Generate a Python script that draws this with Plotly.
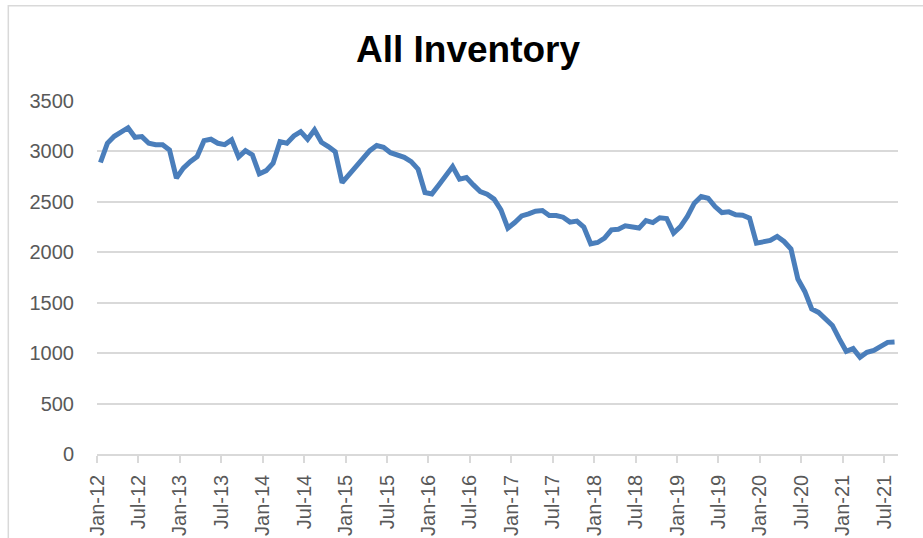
import plotly.graph_objects as go

# Monthly values, Jan-2012 .. Aug-2021
start_year = 2012
start_month = 1
inventory = [
    2890, 3080, 3150, 3186, 3235, 3140, 3147, 3081, 3067, 3067, 3015, 2735,   # 2012
    2834, 2899, 2949, 3107, 3121, 3081, 3067, 3114, 2945, 3008, 2965, 2777,   # 2013
    2810, 2883, 3097, 3081, 3153, 3196, 3121, 3213, 3091, 3048, 2998, 2690,   # 2014
    2765, 2850, 2933, 3008, 3058, 3041, 2988, 2968, 2942, 2899, 2824, 2592,   # 2015
    2579, 2668, 2767, 2850, 2725, 2741, 2668, 2602, 2576, 2527, 2421, 2240,   # 2016
    2295, 2361, 2381, 2408, 2414, 2365, 2365, 2348, 2299, 2309, 2250, 2084,   # 2017
    2097, 2140, 2223, 2229, 2262, 2249, 2240, 2315, 2295, 2342, 2335, 2190,   # 2018
    2255, 2355, 2487, 2553, 2536, 2453, 2394, 2401, 2371, 2368, 2339, 2091,   # 2019
    2104, 2117, 2157, 2107, 2032, 1735, 1612, 1438, 1404, 1332, 1275, 1141,   # 2020
    1018, 1045, 958, 1008, 1028, 1067, 1107, 1111,                            # 2021
]
tick_labels = ["Jan-12", "Jul-12", "Jan-13", "Jul-13", "Jan-14", "Jul-14",
               "Jan-15", "Jul-15", "Jan-16", "Jul-16", "Jan-17", "Jul-17",
               "Jan-18", "Jul-18", "Jan-19", "Jul-19", "Jan-20", "Jul-20",
               "Jan-21", "Jul-21"]
y_ticks = [0, 500, 1000, 1500, 2000, 2500, 3000, 3500]
title_text = "All Inventory"

n = len(inventory)
x_pos = [i + 0.5 for i in range(n)]          # points centred in each month slot
tick_pos = [6 * k for k in range(len(tick_labels))]

W, H = 923, 538
L, R, T, B = 96.7, 25.2, 101.0, 83.5
pw, ph = W - L - R, H - T - B

def px_x(p):
    return (p - L) / pw

def px_y(p):
    return (H - B - p) / ph

fig = go.Figure()
fig.add_trace(go.Scatter(
    x=x_pos, y=inventory, mode="lines",
    line=dict(color="#4a7ebb", width=5),
    hoverinfo="y", showlegend=False,
))

font_main = "Liberation Sans, Arial, sans-serif"

fig.update_layout(
    width=W, height=H,
    margin=dict(l=L, r=R, t=T, b=B, pad=0, autoexpand=False),
    paper_bgcolor="white", plot_bgcolor="white",
    font=dict(family=font_main, color="#595959", size=20),
    showlegend=False,
    xaxis=dict(
        range=[0, n], tickmode="array", tickvals=tick_pos, ticktext=tick_labels,
        tickangle=-90, ticks="outside", ticklen=7, tickwidth=1.5,
        tickcolor="#d9d9d9", showline=True, linecolor="#d9d9d9", linewidth=1.5,
        showgrid=False, zeroline=False, ticklabelstandoff=4, automargin=False,
        tickfont=dict(size=20, color="#595959"),
    ),
    yaxis=dict(
        range=[0, 3500], tickmode="array", tickvals=y_ticks,
        showgrid=True, gridcolor="#d9d9d9", gridwidth=1.5,
        zeroline=False, showline=False, ticks="", automargin=False,
        ticklabelstandoff=22, tickfont=dict(size=20, color="#595959"),
    ),
    annotations=[dict(
        text="<b>" + title_text + "</b>", xref="paper", yref="paper",
        x=px_x(468), y=px_y(49), xanchor="center", yanchor="middle",
        showarrow=False, font=dict(size=37, color="black", family=font_main),
    )],
    shapes=[dict(
        type="rect", xref="paper", yref="paper",
        x0=px_x(8), x1=px_x(940), y0=px_y(560), y1=px_y(5.5),
        line=dict(color="#d9d9d9", width=1.5), fillcolor="rgba(0,0,0,0)",
        layer="below",
    )],
)

fig.write_html(
    "out.html",
    config={"displayModeBar": False},
    post_script="document.body.style.margin='0px';document.body.style.overflow='hidden';",
)
